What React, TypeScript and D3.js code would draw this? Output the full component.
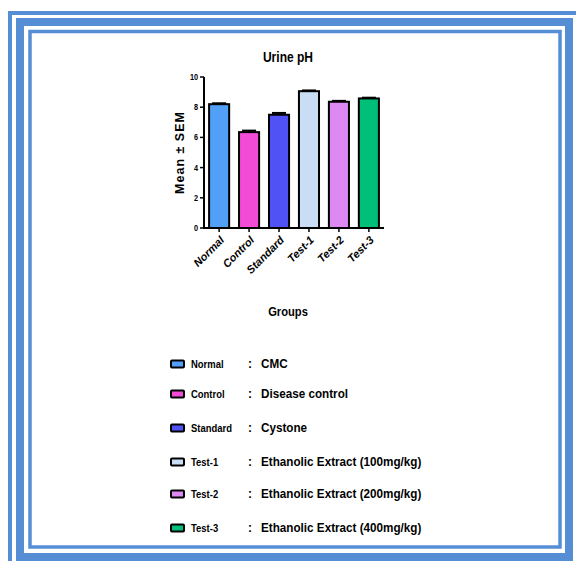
import React from 'react';
import * as d3 from 'd3';

const groups = ['Normal', 'Control', 'Standard', 'Test-1', 'Test-2', 'Test-3'];
const means = [8.2, 6.35, 7.5, 9.06, 8.36, 8.58];
const sems = [0.06, 0.1, 0.12, 0.05, 0.06, 0.05];
const colors = ['#529ff7', '#f24cd6', '#5152f5', '#c9ddf5', '#dd88f3', '#00bf78'];
const treatments = [
  'CMC',
  'Disease control',
  'Cystone',
  'Ethanolic Extract (100mg/kg)',
  'Ethanolic Extract (200mg/kg)',
  'Ethanolic Extract (400mg/kg)',
];
const yTicks = [0, 2, 4, 6, 8, 10];
const legendRows = [364, 394, 428, 462, 494, 528];

const blue = '#558ed5';
const font = '"Liberation Sans", Arial, sans-serif';

// squeezed bold text, the original uses a narrow face
function Narrow({ x, y, size, sx = 0.86, anchor = 'start', children }: any) {
  return (
    <text transform={`translate(${x},${y}) scale(${sx},1)`} textAnchor={anchor} dy="0.35em"
      fontFamily={font} fontWeight="bold" fontSize={size}>{children}</text>
  );
}

export default function App() {
  const x = d3.scaleBand<string>().domain(groups).range([204, 384]).paddingInner(0.33).paddingOuter(0.17);
  const y = d3.scaleLinear().domain([0, 10]).range([228, 77]);
  const x0 = 204;

  return (
    <svg width={576} height={561} style={{ position: 'absolute', left: 0, top: 0, background: '#fff' }}>
      {/* frame */}
      <rect x={8} y={11} width={568} height={4} fill={blue} />
      <rect x={8} y={11} width={4} height={550} fill={blue} />
      <rect x={20} y={22} width={549} height={535} fill="none" stroke={blue} strokeWidth={8} />
      <rect x={30} y={31.5} width={530} height={515.5} fill="none" stroke={blue} strokeWidth={3.5} />

      <Narrow x={288} y={57} size={14} anchor="middle">Urine pH</Narrow>

      {/* bars */}
      {groups.map((g, i) => (
        <rect key={g} x={x(g)} y={y(means[i])} width={x.bandwidth()} height={y(0) - y(means[i])}
          fill={colors[i]} stroke="#000" strokeWidth={2} />
      ))}
      {groups.map((g, i) => {
        const cx = (x(g) as number) + x.bandwidth() / 2;
        return (
          <g key={g + 'e'} stroke="#000" strokeWidth={2}>
            <line x1={cx} x2={cx} y1={y(means[i])} y2={y(means[i] + sems[i])} />
            <line x1={cx - 7} x2={cx + 7} y1={y(means[i] + sems[i])} y2={y(means[i] + sems[i])} />
          </g>
        );
      })}

      {/* axes */}
      <line x1={x0} x2={x0} y1={y(10)} y2={y(0) + 1} stroke="#000" strokeWidth={2} />
      <line x1={x0 - 1} x2={384} y1={y(0)} y2={y(0)} stroke="#000" strokeWidth={2} />
      {yTicks.map(t => (
        <g key={t}>
          <line x1={x0 - 4} x2={x0} y1={y(t)} y2={y(t)} stroke="#000" strokeWidth={1.5} />
          <Narrow x={x0 - 6} y={y(t)} size={8.5} anchor="end">{t}</Narrow>
        </g>
      ))}
      {groups.map(g => {
        const cx = (x(g) as number) + x.bandwidth() / 2;
        return (
          <g key={g + 't'}>
            <line x1={cx} x2={cx} y1={y(0)} y2={y(0) + 4} stroke="#000" strokeWidth={1.5} />
            <text transform={`translate(${cx + 3},${y(0) + 10}) rotate(-45)`} textAnchor="end" dy="0.35em"
              fontFamily={font} fontWeight="bold" fontStyle="italic" fontSize={11}>{g}</text>
          </g>
        );
      })}
      <text transform={`translate(184,${(y(0) + y(10)) / 2}) rotate(-90)`} textAnchor="middle"
        fontFamily={font} fontWeight="bold" fontSize={12.5} letterSpacing={1}>Mean ± SEM</text>
      <Narrow x={288} y={311} size={13} anchor="middle">Groups</Narrow>

      {/* legend */}
      {groups.map((g, i) => (
        <g key={g + 'l'}>
          <rect x={171} y={legendRows[i] - 3.5} width={13} height={7} rx={1} fill={colors[i]} stroke="#000" strokeWidth={2} />
          <Narrow x={191} y={legendRows[i]} size={11}>{g}</Narrow>
          <Narrow x={248} y={legendRows[i]} size={12} sx={1}>:</Narrow>
          <Narrow x={261} y={legendRows[i] - 1} size={13.6}>{treatments[i]}</Narrow>
        </g>
      ))}
    </svg>
  );
}
